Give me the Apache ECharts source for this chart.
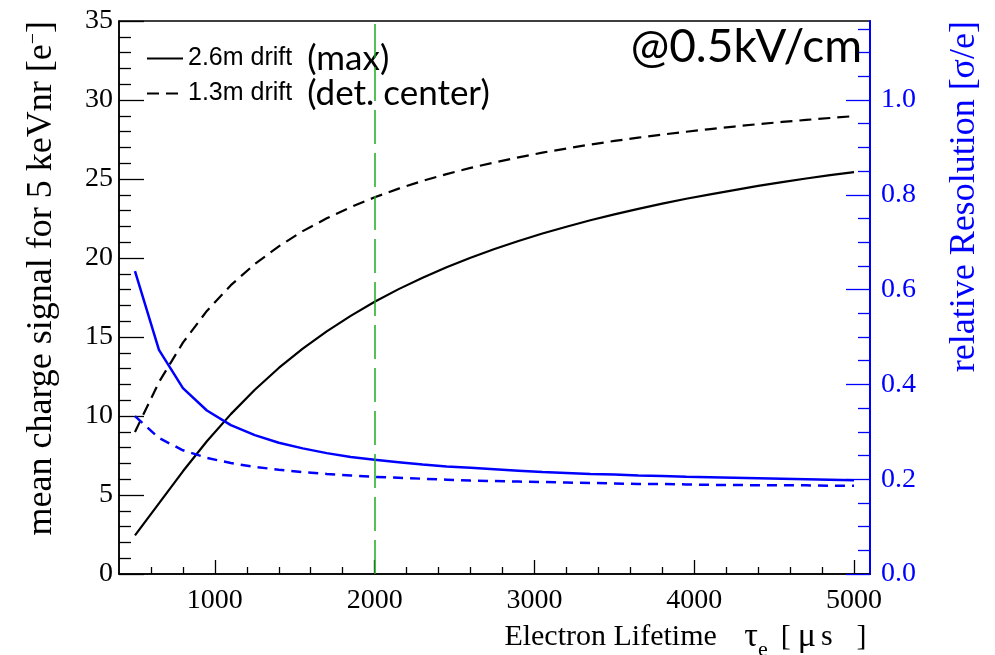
<!DOCTYPE html>
<html><head><meta charset="utf-8">
<script src="https://cdn.jsdelivr.net/npm/echarts@6/dist/echarts.min.js"></script>
<style>html,body{margin:0;padding:0;background:#fff}#c{width:995px;height:655px}</style>
</head><body><div id="c"></div>
<script>
// electron lifetime [us]
const lifetime = [500,650,800,950,1100,1250,1400,1550,1700,1850,2000,2150,2300,2450,2600,2750,2900,3050,3200,3350,3500,3650,3800,3950,4100,4250,4400,4550,4700,4850,5000];
// mean charge signal [e-]
const charge26 = [2.45,4.47,6.50,8.40,10.12,11.66,13.04,14.26,15.36,16.34,17.23,18.03,18.75,19.41,20.02,20.57,21.08,21.55,21.98,22.39,22.76,23.11,23.44,23.75,24.03,24.30,24.56,24.80,25.03,25.24,25.44];
const charge13 = [8.99,12.14,14.64,16.65,18.28,19.62,20.74,21.70,22.51,23.22,23.84,24.39,24.88,25.31,25.70,26.05,26.37,26.67,26.93,27.18,27.41,27.62,27.81,27.99,28.16,28.32,28.47,28.61,28.74,28.86,28.98];
// relative resolution [sigma/e]
const res26 = [0.639,0.473,0.392,0.345,0.314,0.293,0.277,0.265,0.255,0.247,0.241,0.236,0.231,0.227,0.224,0.221,0.218,0.215,0.213,0.211,0.210,0.208,0.207,0.205,0.204,0.203,0.202,0.201,0.200,0.199,0.198];
const res13 = [0.333,0.287,0.261,0.245,0.234,0.226,0.220,0.215,0.211,0.208,0.205,0.203,0.201,0.199,0.197,0.196,0.195,0.194,0.193,0.192,0.191,0.190,0.190,0.189,0.188,0.188,0.187,0.187,0.187,0.186,0.186];
// reference line
const markerLifetime = 2000;
// ticks
const xMajorTicks = [1000,2000,3000,4000,5000];
const xMinorTicks = [600,800,1200,1400,1600,1800,2200,2400,2600,2800,3200,3400,3600,3800,4200,4400,4600,4800];
const rightMajorTicks = [0,0.2,0.4,0.6,0.8,1.0];
const rightMinorTicks = [0.05,0.1,0.15,0.25,0.3,0.35,0.45,0.5,0.55,0.65,0.7,0.75,0.85,0.9,0.95,1.05,1.1,1.15];
const legendNotes = {'2.6m drift':'(max)','1.3m drift':'(det. center)'};

const BLUE = '#0000ff';
const SERIF = 'Liberation Serif';
const pairs = (ys) => lifetime.map((x, i) => [x, ys[i]]);

const chart = echarts.init(document.getElementById('c'), null, {renderer:'canvas'});
chart.setOption({
  animation: false,
  backgroundColor: '#fff',
  title: {
    text: '@0.5kV/cm', right: 133, top: 24, padding: 0,
    textStyle: {fontFamily: 'Lato', fontSize: 46, fontWeight: 'normal', color: '#000'}
  },
  legend: {
    data: ['2.6m drift','1.3m drift'],
    orient: 'vertical', left: 146, top: 41, padding: 0, itemGap: 0,
    itemWidth: 36, itemHeight: 14, selectedMode: false,
    itemStyle: {opacity: 0},
    formatter: (name) => '{a|' + name + '}{b|' + legendNotes[name] + '}',
    textStyle: {
      color: '#000',
      rich: {
        a: {fontFamily: 'Liberation Sans', fontSize: 25, color: '#000', lineHeight: 34},
        b: {fontFamily: 'Lato', fontSize: 35, color: '#000', lineHeight: 34, padding: [0,0,0,15]}
      }
    }
  },
  grid: {left: 119, right: 125, top: 21, bottom: 81, show: true, borderColor: '#000', borderWidth: 1.5, outerBoundsMode: 'none', containLabel: false},
  xAxis: [{
    type: 'value', min: 400, max: 5100, position: 'bottom',
    axisLine: {lineStyle: {color: '#000', width: 1.5}},
    axisTick: {inside: true, length: 14, customValues: xMajorTicks, lineStyle: {color: '#000', width: 1.3}},
    axisLabel: {customValues: xMajorTicks, color: '#000', fontFamily: SERIF, fontSize: 28, margin: 13, formatter: (v) => String(v)},
    splitLine: {show: false},
    name: 'Electron Lifetime {tau|τ}{sub|e}{br|[}{mu|μ}{s|s}{br2|]}',
    nameLocation: 'middle', nameGap: 0,
    nameTextStyle: {
      fontFamily: SERIF, fontSize: 30, color: '#000', verticalAlign: 'top', padding: [25,0,0,382],
      rich: {
        tau: {fontFamily: SERIF, fontSize: 34, color: '#000', padding: [0,0,0,20]},
        sub: {fontFamily: SERIF, fontSize: 22, color: '#000', padding: [26,0,0,0]},
        br: {fontFamily: SERIF, fontSize: 30, color: '#000', padding: [0,0,0,13]},
        mu: {fontFamily: SERIF, fontSize: 34, color: '#000', padding: [0,0,0,7]},
        s: {fontFamily: SERIF, fontSize: 30, color: '#000', padding: [0,0,0,5]},
        br2: {fontFamily: SERIF, fontSize: 30, color: '#000', padding: [0,0,0,24]}
      }
    }
  }, {
    type: 'value', min: 400, max: 5100, position: 'bottom',
    axisLine: {show: false},
    axisTick: {inside: true, length: 7, customValues: xMinorTicks, lineStyle: {color: '#000', width: 1.3}},
    axisLabel: {show: false}, splitLine: {show: false}
  }],
  yAxis: [{
    type: 'value', min: 0, max: 35, interval: 5, position: 'left',
    axisLine: {show: true, lineStyle: {color: '#000', width: 1.5}},
    axisTick: {show: true, inside: true, length: 25, lineStyle: {color: '#000', width: 1.3}},
    minorTick: {show: true, splitNumber: 5, length: 12, lineStyle: {color: '#000', width: 1.3}},
    axisLabel: {color: '#000', fontFamily: SERIF, fontSize: 28, margin: 6},
    splitLine: {show: false}, minorSplitLine: {show: false},
    name: 'mean charge signal for 5 keVnr [e{sup|−}]',
    nameLocation: 'end', nameGap: 0, nameRotate: 90,
    nameTextStyle: {
      fontFamily: SERIF, fontSize: 36, color: '#000', align: 'right', verticalAlign: 'bottom', padding: [0,0,59,0],
      rich: {sup: {fontFamily: SERIF, fontSize: 20, color: '#000', padding: [0,0,16,0]}}
    }
  }, {
    type: 'value', min: 0, max: 35/30, position: 'right',
    axisLine: {show: true, lineStyle: {color: BLUE, width: 2}},
    axisTick: {show: true, inside: true, length: 24, customValues: rightMajorTicks, lineStyle: {color: BLUE, width: 1.3}},
    axisLabel: {customValues: rightMajorTicks, color: BLUE, fontFamily: SERIF, fontSize: 28, margin: 11, formatter: (v) => v.toFixed(1)},
    splitLine: {show: false},
    name: 'relative Resolution [σ/e]',
    nameLocation: 'end', nameGap: 0, nameRotate: 90,
    nameTextStyle: {fontFamily: SERIF, fontSize: 36, color: BLUE, align: 'right', verticalAlign: 'top', padding: [77,0,0,0]}
  }, {
    type: 'value', min: 0, max: 35/30, position: 'right',
    axisLine: {show: false},
    axisTick: {show: true, inside: true, length: 12, customValues: rightMinorTicks, lineStyle: {color: BLUE, width: 1.3}},
    axisLabel: {show: false}, splitLine: {show: false}
  }],
  series: [{
    name: '2.6m drift', type: 'line', xAxisIndex: 0, yAxisIndex: 0, data: pairs(charge26),
    symbol: 'none', color: '#000', lineStyle: {color: '#000', width: 2.2}, z: 3,
    markLine: {
      silent: true, symbol: ['none','none'], label: {show: false},
      lineStyle: {color: '#1faa1f', width: 1.5, type: [34, 9]},
      data: [{xAxis: markerLifetime}]
    }
  }, {
    name: '1.3m drift', type: 'line', xAxisIndex: 0, yAxisIndex: 0, data: pairs(charge13),
    symbol: 'none', color: '#000', lineStyle: {color: '#000', width: 2.2, type: [12, 7]}, z: 3
  }, {
    name: 'resolution 2.6m', type: 'line', xAxisIndex: 0, yAxisIndex: 1, data: pairs(res26),
    symbol: 'none', color: BLUE, lineStyle: {color: BLUE, width: 2.5}, z: 3
  }, {
    name: 'resolution 1.3m', type: 'line', xAxisIndex: 0, yAxisIndex: 1, data: pairs(res13),
    symbol: 'none', color: BLUE, lineStyle: {color: BLUE, width: 2.5, type: [10, 7]}, z: 3
  }]
});
</script></body></html>
